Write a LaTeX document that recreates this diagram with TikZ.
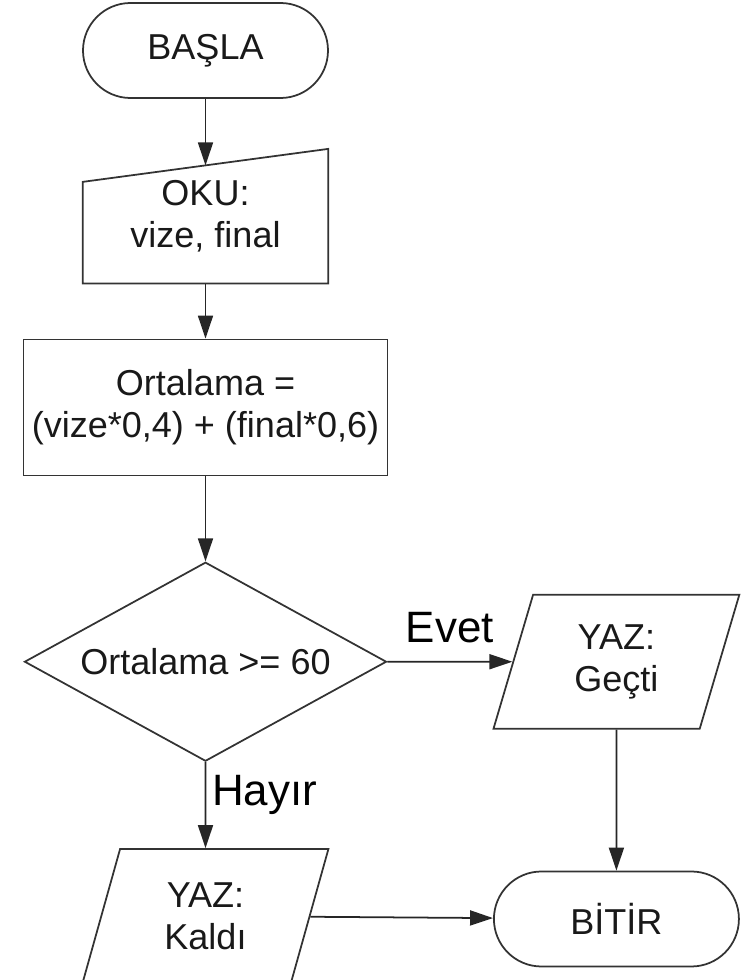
\documentclass[tikz,border=0pt]{standalone}
\usepackage{fontspec}
\setmainfont{Liberation Sans}
\usetikzlibrary{arrows.meta,positioning,shapes.geometric}

\begin{document}
\begin{tikzpicture}[
  every node/.style={font=\fontsize{20.5}{24}\selectfont, text=black!90, align=center},
  term/.style={draw=black!80, line width=1pt, rounded corners=0.95cm, minimum width=4.9cm, minimum height=1.9cm},
  inbox/.style={minimum width=4.9cm, minimum height=2.68cm, inner sep=0pt},
  proc/.style={draw=black!80, line width=1pt, minimum width=7.28cm, minimum height=2.72cm},
  decide/.style={draw=black!80, line width=1pt, diamond, aspect=1.8, minimum width=7.24cm, minimum height=3.98cm, inner sep=0pt},
  io/.style={draw=black!80, line width=1pt, trapezium, trapezium left angle=75, trapezium right angle=105,
    trapezium stretches=true, minimum width=4.94cm, minimum height=2.68cm, inner sep=0pt},
  lbl/.style={font=\fontsize{25}{30}\selectfont, text=black},
  arr/.style={-{Triangle[length=0.46cm,width=0.3cm]}, draw=black!85, line width=1pt}
]
  \useasboundingbox (0,0) rectangle (14.82,-19.6);

  \node[term] (basla) at (4.11,-1.01) {BAŞLA};
  \node[inbox, below=1.0cm of basla] (oku) {OKU:\\vize, final};
  \draw[draw=black!80, line width=1pt] (oku.south west) -- (oku.south east) -- (oku.north east)
    -- ([yshift=-0.66cm]oku.north west) -- cycle;
  \coordinate (okutop) at ([yshift=-0.33cm]oku.north);

  \node[proc, below=1.1cm of oku] (hesap) {Ortalama =\\(vize*0,4) + (final*0,6)};
  \node[decide, below=1.7cm of hesap] (kosul) {Ortalama >= 60};
  \node[io, right=2.5cm of kosul] (gecti) {YAZ:\\Geçti};
  \node[io, below=1.72cm of kosul] (kaldi) {YAZ:\\Kaldı};
  \node[term, below=2.82cm of gecti] (bitir) {BİTİR};

  \draw[arr] (basla) -- (okutop);
  \draw[arr] (oku) -- (hesap);
  \draw[arr] (hesap) -- (kosul);
  \draw[arr] (kosul) -- node[lbl, above, yshift=0.24cm] {Evet} (gecti);
  \draw[arr] (kosul) -- node[lbl, right, yshift=0.2cm] {Hayır} (kaldi);
  \draw[arr] (gecti) -- (bitir);
  \draw[arr] (kaldi) -- (bitir);
\end{tikzpicture}
\end{document}
